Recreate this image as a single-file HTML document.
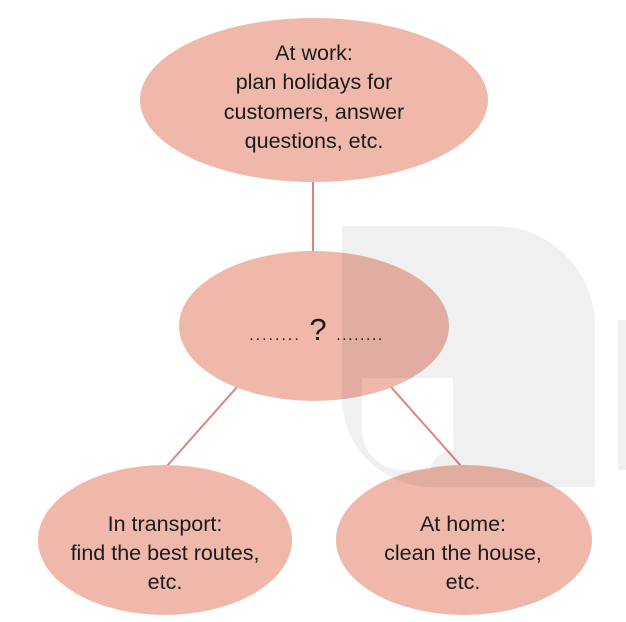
<!DOCTYPE html>
<html><head><meta charset="utf-8"><style>
html,body{margin:0;padding:0;background:#fff;}
svg{display:block;}
text{font-family:"Liberation Sans","DejaVu Sans",sans-serif;fill:#1a1a1a;font-size:21.5px;text-anchor:middle;}
</style></head><body>
<svg width="626" height="622" viewBox="0 0 626 622" xmlns="http://www.w3.org/2000/svg">
<g stroke="#d8867a" stroke-width="2">
<line x1="313" y1="180" x2="313" y2="252"/>
<line x1="237" y1="387" x2="167" y2="466"/>
<line x1="391" y1="387" x2="461" y2="466"/>
</g>
<ellipse cx="314" cy="100" rx="174" ry="82" fill="#efb8ab"/>
<ellipse cx="314" cy="326" rx="135" ry="75" fill="#efb8ab"/>
<ellipse cx="165" cy="540" rx="127" ry="75" fill="#efb8ab"/>
<ellipse cx="464" cy="540" rx="128" ry="75" fill="#efb8ab"/>
<g fill="#000" fill-opacity="0.06">
<path d="M342 226 H495 A100 100 0 0 1 595 326 V487 H430 A90 90 0 0 1 342 400 Z M362 378 V430 A40 40 0 0 0 400 470 H430 A24 24 0 0 1 453 450 V378 Z" fill-rule="evenodd"/>
<rect x="618" y="320" width="8" height="150"/>
</g>
<text x="314" y="60">At work:</text>
<text x="314" y="89">plan holidays for</text>
<text x="314" y="119">customers, answer</text>
<text x="314" y="148">questions, etc.</text>
<text x="318" y="340" style="font-size:31px">?</text>
<text x="275" y="340" style="font-size:16px;letter-spacing:2px">........</text>
<text x="360" y="340" style="font-size:16px;letter-spacing:1.5px">........</text>
<text x="165" y="531">In transport:</text>
<text x="165" y="560">find the best routes,</text>
<text x="165" y="589">etc.</text>
<text x="463" y="531">At home:</text>
<text x="463" y="560">clean the house,</text>
<text x="463" y="589">etc.</text>
</svg>
</body></html>
